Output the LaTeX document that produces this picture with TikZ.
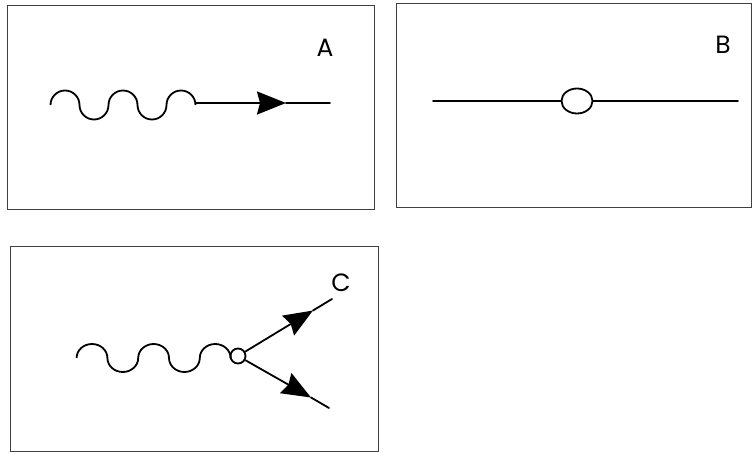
\documentclass[tikz,border=0pt]{standalone}
\usepackage{fontspec}
\setmainfont{Poppins}
\usepackage{tikz}
\usetikzlibrary{arrows.meta}
\usetikzlibrary{shapes.geometric}
\tikzstyle{frame} = [draw=black!75, line width=0.9pt]
\tikzstyle{line} = [line width=1.8pt, line cap=round]
\tikzstyle{wave} = [line width=1.8pt]
\tikzstyle{arrow} = [line width=1.8pt, -{Stealth[length=29pt, width=23pt, inset=3pt]}]
\tikzstyle{label} = [font=\fontsize{25}{30}\selectfont, inner sep=0pt]
\tikzstyle{vertex} = [draw, line width=1.8pt, ellipse, inner sep=0pt, fill=white]

\begin{document}
\begin{tikzpicture}[x=1pt, y=-1pt]
			\useasboundingbox (0,0) rectangle (754,454);
			\draw[frame] (7,5) rectangle (374,209);
			\draw[frame] (396,3) rectangle (751,207);
			\draw[frame] (10,246) rectangle (378,451);

			% A
			\node[label] (labA) at (325,48) {A};
			\coordinate (wA) at (50.5,105);
			\coordinate (tipA) at (286,103);
			\coordinate (endA) at (330,103);
			\draw[wave] (wA)
				arc[start angle=180, end angle=360, x radius=14.5, y radius=14.5]
				arc[start angle=180, end angle=0, x radius=14.5, y radius=14.5]
				arc[start angle=180, end angle=360, x radius=14.5, y radius=14.5]
				arc[start angle=180, end angle=0, x radius=14.5, y radius=14.5]
				arc[start angle=180, end angle=360, x radius=14.5, y radius=14.5]
				coordinate (wAend);
			\draw[arrow] (wAend) |- (tipA);
			\draw[line] (tipA) -- (endA);

			% B
			\node[label] (labB) at (723,45) {B};
			\node[vertex, minimum width=31pt, minimum height=25pt] (vB) at (577,101) {};
			\coordinate (lB) at (433,101);
			\coordinate (rB) at (738,101);
			\draw[line] (lB) -- (vB);
			\draw[line] (vB) -- (rB);

			% C
			\node[label] (labC) at (341,283) {C};
			\node[vertex, circle, minimum size=15pt] (vC) at (238,356) {};
			\coordinate (wC) at (76.6,358);
			\coordinate (tipCu) at (313,310.5);
			\coordinate (endCu) at (332,299);
			\coordinate (tipCd) at (311,397.5);
			\coordinate (endCd) at (329,408);
			\draw[wave] (wC)
				arc[start angle=180, end angle=360, x radius=15.4, y radius=14]
				arc[start angle=180, end angle=0, x radius=15.4, y radius=14]
				arc[start angle=180, end angle=360, x radius=15.4, y radius=14]
				arc[start angle=180, end angle=0, x radius=15.4, y radius=14]
				arc[start angle=180, end angle=360, x radius=15.4, y radius=14]
				coordinate (wCend);
			\draw[wave] (wCend) -- (vC);
			\draw[arrow] (vC) -- (tipCu);
			\draw[line] (tipCu) -- (endCu);
			\draw[arrow] (vC) -- (tipCd);
			\draw[line] (tipCd) -- (endCd);
\end{tikzpicture}
\end{document}
